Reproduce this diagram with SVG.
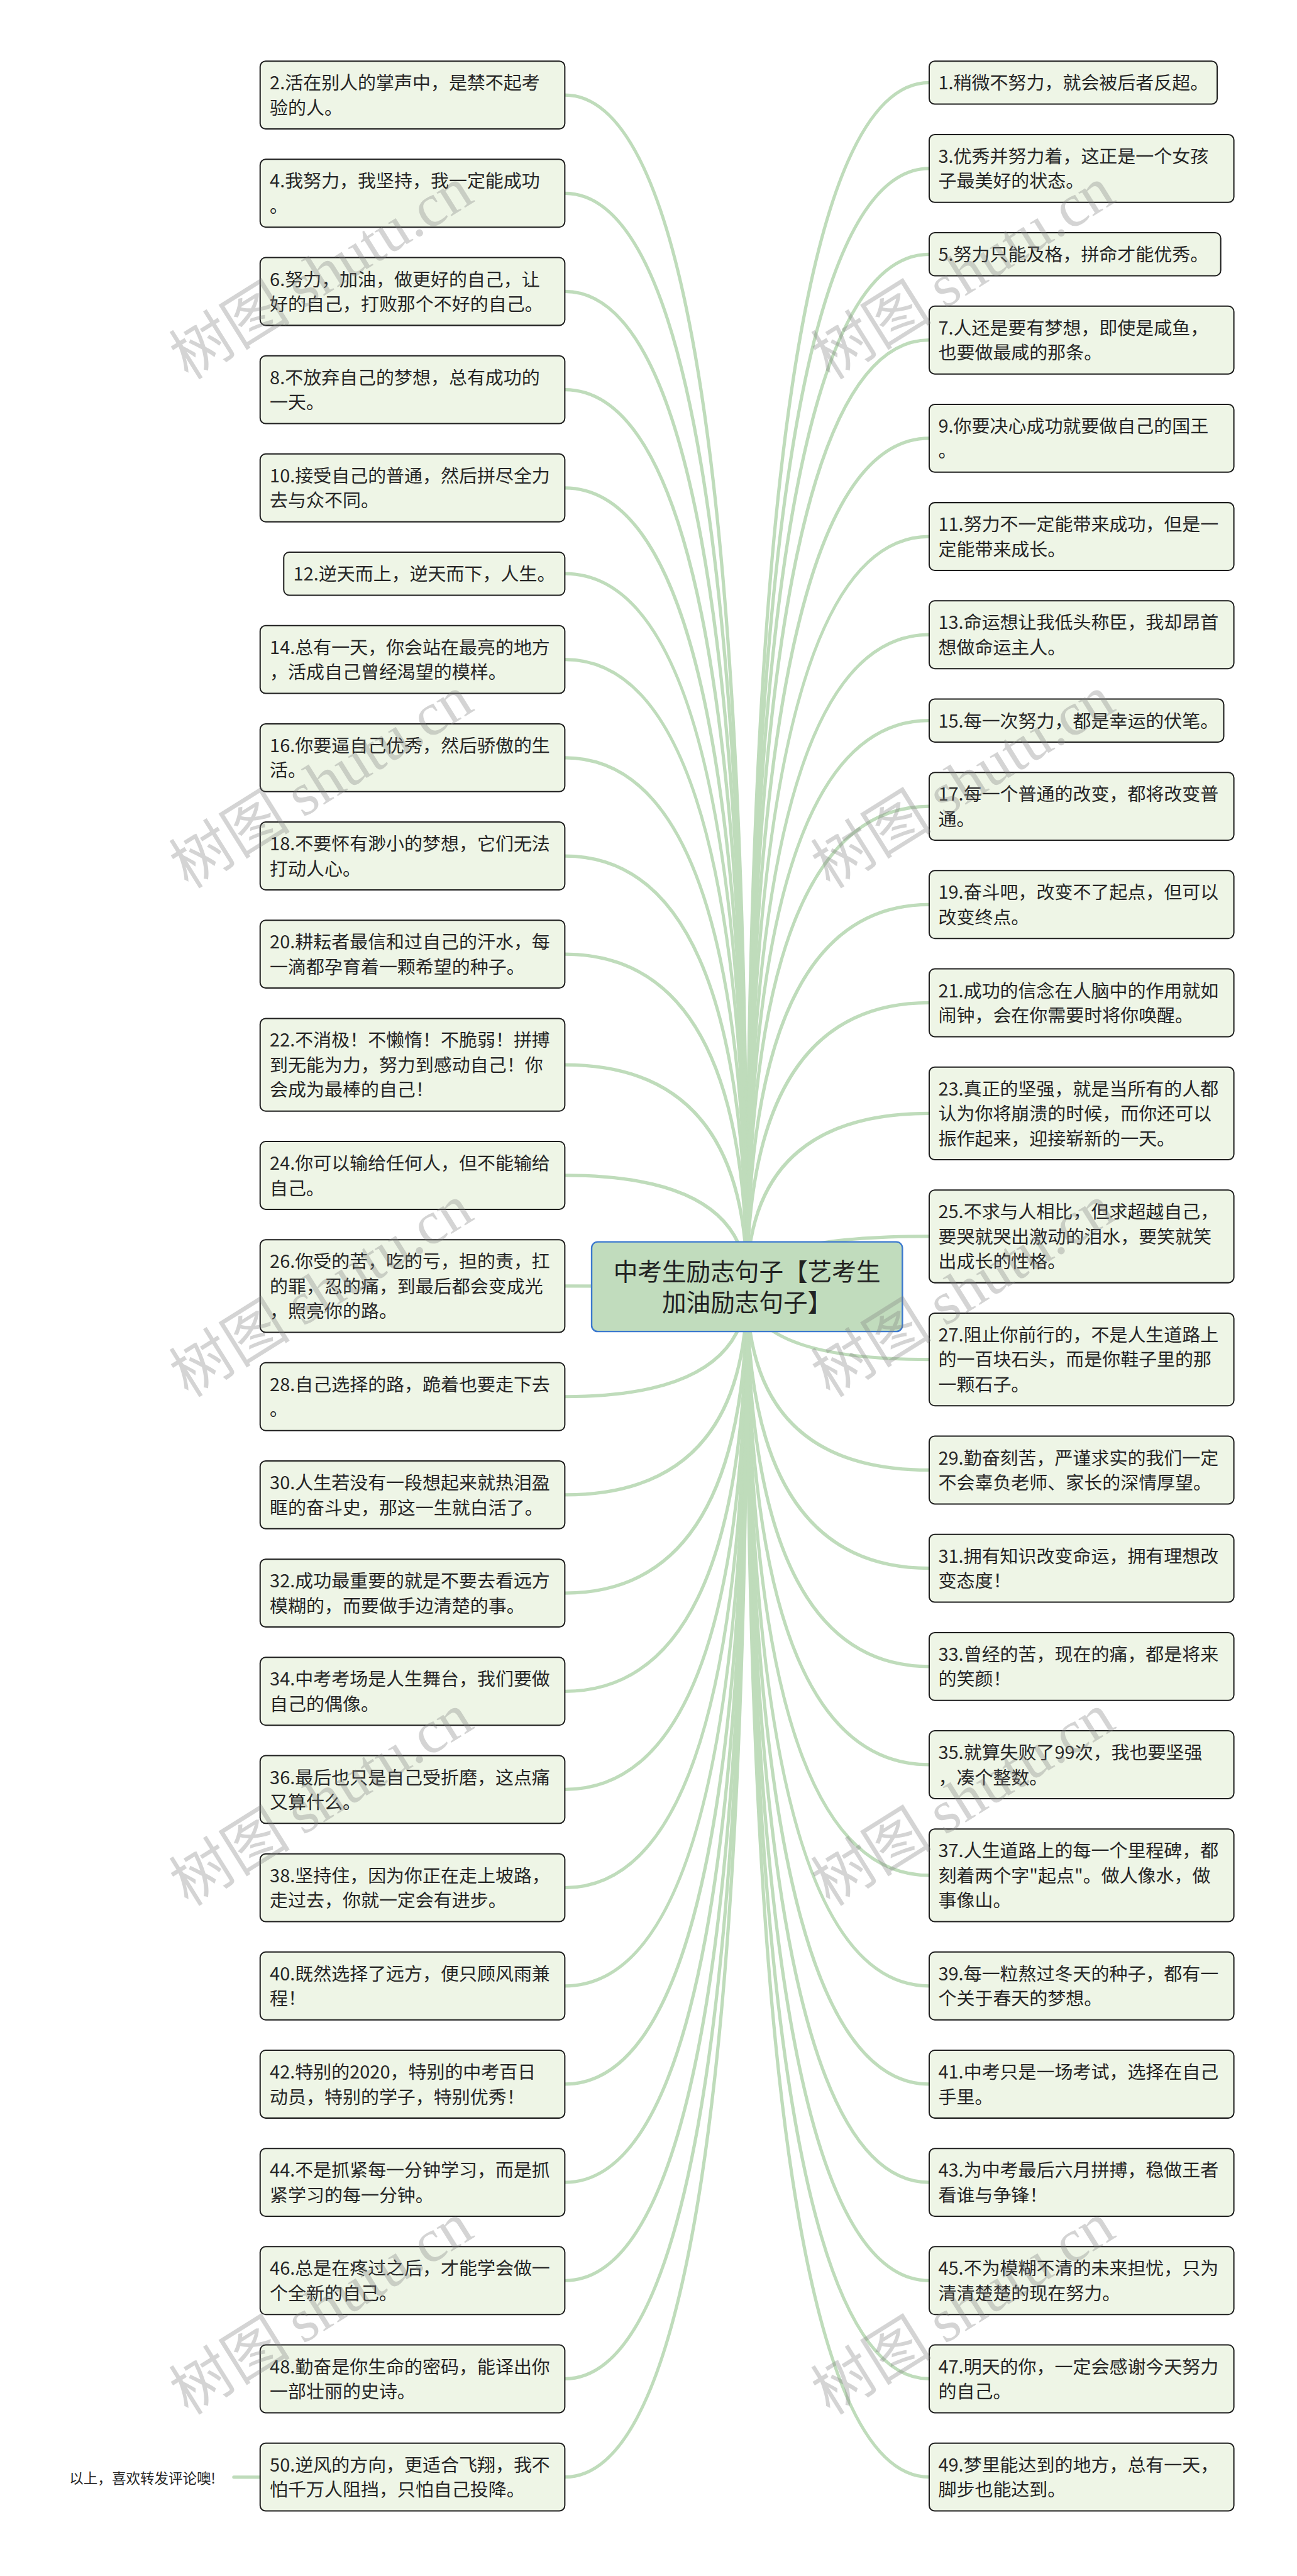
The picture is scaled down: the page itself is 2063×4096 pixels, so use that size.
<svg xmlns="http://www.w3.org/2000/svg" width="2063" height="4096" viewBox="0 0 2063 4096">
<style>
.n rect{fill:#eef5e6;stroke:#1e1e1e;stroke-width:2.5}
.t{font-family:"Noto Sans CJK SC","Noto Sans",sans-serif;font-size:36px;fill:#262626}
.ct{font-family:"Noto Sans CJK SC","Noto Sans",sans-serif;font-size:48px;fill:#222;text-anchor:middle}
.c path{fill:none;stroke:#bfdcbb;stroke-width:6.5;stroke-linecap:round}
.wm{font-family:"Noto Sans CJK SC",sans-serif;font-size:120px;fill:#808080;opacity:0.33}
.wm tspan{font-family:"Liberation Serif",serif}
</style>
<rect width="2063" height="4096" fill="#fff"/>
<g transform="scale(0.805)">
<g id="connectors" class="c">
<path d="M1476 2541Q1476 187.7 1116 187.7"/>
<path d="M1476 2541Q1476 381.7 1116 381.7"/>
<path d="M1476 2541Q1476 575.7 1116 575.7"/>
<path d="M1476 2541Q1476 769.7 1116 769.7"/>
<path d="M1476 2541Q1476 963.7 1116 963.7"/>
<path d="M1476 2541Q1476 1133.2 1116 1133.2"/>
<path d="M1476 2541Q1476 1302.7 1116 1302.7"/>
<path d="M1476 2541Q1476 1496.7 1116 1496.7"/>
<path d="M1476 2541Q1476 1690.7 1116 1690.7"/>
<path d="M1476 2541Q1476 1884.7 1116 1884.7"/>
<path d="M1476 2541Q1476 2103.2 1116 2103.2"/>
<path d="M1476 2541Q1476 2321.7 1116 2321.7"/>
<path d="M1476 2541Q1476 2540.2 1116 2540.2"/>
<path d="M1476 2541Q1476 2758.7 1116 2758.7"/>
<path d="M1476 2541Q1476 2952.7 1116 2952.7"/>
<path d="M1476 2541Q1476 3146.7 1116 3146.7"/>
<path d="M1476 2541Q1476 3340.7 1116 3340.7"/>
<path d="M1476 2541Q1476 3534.7 1116 3534.7"/>
<path d="M1476 2541Q1476 3728.7 1116 3728.7"/>
<path d="M1476 2541Q1476 3922.7 1116 3922.7"/>
<path d="M1476 2541Q1476 4116.7 1116 4116.7"/>
<path d="M1476 2541Q1476 4310.7 1116 4310.7"/>
<path d="M1476 2541Q1476 4504.7 1116 4504.7"/>
<path d="M1476 2541Q1476 4698.7 1116 4698.7"/>
<path d="M1476 2541Q1476 4892.7 1116 4892.7"/>
<path d="M1476 2541Q1476 163.2 1836 163.2"/>
<path d="M1476 2541Q1476 332.7 1836 332.7"/>
<path d="M1476 2541Q1476 502.2 1836 502.2"/>
<path d="M1476 2541Q1476 671.7 1836 671.7"/>
<path d="M1476 2541Q1476 865.7 1836 865.7"/>
<path d="M1476 2541Q1476 1059.7 1836 1059.7"/>
<path d="M1476 2541Q1476 1253.7 1836 1253.7"/>
<path d="M1476 2541Q1476 1423.2 1836 1423.2"/>
<path d="M1476 2541Q1476 1592.7 1836 1592.7"/>
<path d="M1476 2541Q1476 1786.7 1836 1786.7"/>
<path d="M1476 2541Q1476 1980.7 1836 1980.7"/>
<path d="M1476 2541Q1476 2199.2 1836 2199.2"/>
<path d="M1476 2541Q1476 2442.2 1836 2442.2"/>
<path d="M1476 2541Q1476 2685.2 1836 2685.2"/>
<path d="M1476 2541Q1476 2903.7 1836 2903.7"/>
<path d="M1476 2541Q1476 3097.7 1836 3097.7"/>
<path d="M1476 2541Q1476 3291.7 1836 3291.7"/>
<path d="M1476 2541Q1476 3485.7 1836 3485.7"/>
<path d="M1476 2541Q1476 3704.2 1836 3704.2"/>
<path d="M1476 2541Q1476 3922.7 1836 3922.7"/>
<path d="M1476 2541Q1476 4116.7 1836 4116.7"/>
<path d="M1476 2541Q1476 4310.7 1836 4310.7"/>
<path d="M1476 2541Q1476 4504.7 1836 4504.7"/>
<path d="M1476 2541Q1476 4698.7 1836 4698.7"/>
<path d="M1476 2541Q1476 4892.7 1836 4892.7"/>
<path d="M520 4893L462 4893"/>
</g>
<g id="root">
<rect x="1169" y="2453" width="614" height="177" rx="12" fill="#c1dcbd" stroke="#3b78cf" stroke-width="3"/>
<text class="ct"><tspan x="1476" y="2529">中考生励志句子【艺考生</tspan><tspan x="1476" y="2590">加油励志句子】</tspan></text>
</g>
<g id="n2" class="n"><rect x="514" y="120.7" width="602" height="134" rx="11"/><text class="t"><tspan x="533" y="176.7">2.活在别人的掌声中，是禁不起考</tspan><tspan x="533" y="225.7">验的人。</tspan></text></g>
<g id="n4" class="n"><rect x="514" y="314.7" width="602" height="134" rx="11"/><text class="t"><tspan x="533" y="370.7">4.我努力，我坚持，我一定能成功</tspan><tspan x="533" y="419.7">。</tspan></text></g>
<g id="n6" class="n"><rect x="514" y="508.7" width="602" height="134" rx="11"/><text class="t"><tspan x="533" y="564.7">6.努力，加油，做更好的自己，让</tspan><tspan x="533" y="613.7">好的自己，打败那个不好的自己。</tspan></text></g>
<g id="n8" class="n"><rect x="514" y="702.7" width="602" height="134" rx="11"/><text class="t"><tspan x="533" y="758.7">8.不放弃自己的梦想，总有成功的</tspan><tspan x="533" y="807.7">一天。</tspan></text></g>
<g id="n10" class="n"><rect x="514" y="896.7" width="602" height="134" rx="11"/><text class="t"><tspan x="533" y="952.7">10.接受自己的普通，然后拼尽全力</tspan><tspan x="533" y="1001.7">去与众不同。</tspan></text></g>
<g id="n12" class="n"><rect x="560.6" y="1090.7" width="555.4" height="85" rx="11"/><text class="t"><tspan x="579.6" y="1146.7">12.逆天而上，逆天而下，人生。</tspan></text></g>
<g id="n14" class="n"><rect x="514" y="1235.7" width="602" height="134" rx="11"/><text class="t"><tspan x="533" y="1291.7">14.总有一天，你会站在最亮的地方</tspan><tspan x="533" y="1340.7">，活成自己曾经渴望的模样。</tspan></text></g>
<g id="n16" class="n"><rect x="514" y="1429.7" width="602" height="134" rx="11"/><text class="t"><tspan x="533" y="1485.7">16.你要逼自己优秀，然后骄傲的生</tspan><tspan x="533" y="1534.7">活。</tspan></text></g>
<g id="n18" class="n"><rect x="514" y="1623.7" width="602" height="134" rx="11"/><text class="t"><tspan x="533" y="1679.7">18.不要怀有渺小的梦想，它们无法</tspan><tspan x="533" y="1728.7">打动人心。</tspan></text></g>
<g id="n20" class="n"><rect x="514" y="1817.7" width="602" height="134" rx="11"/><text class="t"><tspan x="533" y="1873.7">20.耕耘者最信和过自己的汗水，每</tspan><tspan x="533" y="1922.7">一滴都孕育着一颗希望的种子。</tspan></text></g>
<g id="n22" class="n"><rect x="514" y="2011.7" width="602" height="183" rx="11"/><text class="t"><tspan x="533" y="2067.7">22.不消极！不懒惰！不脆弱！拼搏</tspan><tspan x="533" y="2116.7">到无能为力，努力到感动自己！你</tspan><tspan x="533" y="2165.7">会成为最棒的自己！</tspan></text></g>
<g id="n24" class="n"><rect x="514" y="2254.7" width="602" height="134" rx="11"/><text class="t"><tspan x="533" y="2310.7">24.你可以输给任何人，但不能输给</tspan><tspan x="533" y="2359.7">自己。</tspan></text></g>
<g id="n26" class="n"><rect x="514" y="2448.7" width="602" height="183" rx="11"/><text class="t"><tspan x="533" y="2504.7">26.你受的苦，吃的亏，担的责，扛</tspan><tspan x="533" y="2553.7">的罪，忍的痛，到最后都会变成光</tspan><tspan x="533" y="2602.7">，照亮你的路。</tspan></text></g>
<g id="n28" class="n"><rect x="514" y="2691.7" width="602" height="134" rx="11"/><text class="t"><tspan x="533" y="2747.7">28.自己选择的路，跪着也要走下去</tspan><tspan x="533" y="2796.7">。</tspan></text></g>
<g id="n30" class="n"><rect x="514" y="2885.7" width="602" height="134" rx="11"/><text class="t"><tspan x="533" y="2941.7">30.人生若没有一段想起来就热泪盈</tspan><tspan x="533" y="2990.7">眶的奋斗史，那这一生就白活了。</tspan></text></g>
<g id="n32" class="n"><rect x="514" y="3079.7" width="602" height="134" rx="11"/><text class="t"><tspan x="533" y="3135.7">32.成功最重要的就是不要去看远方</tspan><tspan x="533" y="3184.7">模糊的，而要做手边清楚的事。</tspan></text></g>
<g id="n34" class="n"><rect x="514" y="3273.7" width="602" height="134" rx="11"/><text class="t"><tspan x="533" y="3329.7">34.中考考场是人生舞台，我们要做</tspan><tspan x="533" y="3378.7">自己的偶像。</tspan></text></g>
<g id="n36" class="n"><rect x="514" y="3467.7" width="602" height="134" rx="11"/><text class="t"><tspan x="533" y="3523.7">36.最后也只是自己受折磨，这点痛</tspan><tspan x="533" y="3572.7">又算什么。</tspan></text></g>
<g id="n38" class="n"><rect x="514" y="3661.7" width="602" height="134" rx="11"/><text class="t"><tspan x="533" y="3717.7">38.坚持住，因为你正在走上坡路，</tspan><tspan x="533" y="3766.7">走过去，你就一定会有进步。</tspan></text></g>
<g id="n40" class="n"><rect x="514" y="3855.7" width="602" height="134" rx="11"/><text class="t"><tspan x="533" y="3911.7">40.既然选择了远方，便只顾风雨兼</tspan><tspan x="533" y="3960.7">程！</tspan></text></g>
<g id="n42" class="n"><rect x="514" y="4049.7" width="602" height="134" rx="11"/><text class="t"><tspan x="533" y="4105.7">42.特别的2020，特别的中考百日</tspan><tspan x="533" y="4154.7">动员，特别的学子，特别优秀！</tspan></text></g>
<g id="n44" class="n"><rect x="514" y="4243.7" width="602" height="134" rx="11"/><text class="t"><tspan x="533" y="4299.7">44.不是抓紧每一分钟学习，而是抓</tspan><tspan x="533" y="4348.7">紧学习的每一分钟。</tspan></text></g>
<g id="n46" class="n"><rect x="514" y="4437.7" width="602" height="134" rx="11"/><text class="t"><tspan x="533" y="4493.7">46.总是在疼过之后，才能学会做一</tspan><tspan x="533" y="4542.7">个全新的自己。</tspan></text></g>
<g id="n48" class="n"><rect x="514" y="4631.7" width="602" height="134" rx="11"/><text class="t"><tspan x="533" y="4687.7">48.勤奋是你生命的密码，能译出你</tspan><tspan x="533" y="4736.7">一部壮丽的史诗。</tspan></text></g>
<g id="n50" class="n"><rect x="514" y="4825.7" width="602" height="134" rx="11"/><text class="t"><tspan x="533" y="4881.7">50.逆风的方向，更适合飞翔，我不</tspan><tspan x="533" y="4930.7">怕千万人阻挡，只怕自己投降。</tspan></text></g>
<g id="n1" class="n"><rect x="1836" y="120.7" width="569" height="85" rx="11"/><text class="t"><tspan x="1854" y="176.7">1.稍微不努力，就会被后者反超。</tspan></text></g>
<g id="n3" class="n"><rect x="1836" y="265.7" width="602" height="134" rx="11"/><text class="t"><tspan x="1854" y="321.7">3.优秀并努力着，这正是一个女孩</tspan><tspan x="1854" y="370.7">子最美好的状态。</tspan></text></g>
<g id="n5" class="n"><rect x="1836" y="459.7" width="576" height="85" rx="11"/><text class="t"><tspan x="1854" y="515.7">5.努力只能及格，拼命才能优秀。</tspan></text></g>
<g id="n7" class="n"><rect x="1836" y="604.7" width="602" height="134" rx="11"/><text class="t"><tspan x="1854" y="660.7">7.人还是要有梦想，即使是咸鱼，</tspan><tspan x="1854" y="709.7">也要做最咸的那条。</tspan></text></g>
<g id="n9" class="n"><rect x="1836" y="798.7" width="602" height="134" rx="11"/><text class="t"><tspan x="1854" y="854.7">9.你要决心成功就要做自己的国王</tspan><tspan x="1854" y="903.7">。</tspan></text></g>
<g id="n11" class="n"><rect x="1836" y="992.7" width="602" height="134" rx="11"/><text class="t"><tspan x="1854" y="1048.7">11.努力不一定能带来成功，但是一</tspan><tspan x="1854" y="1097.7">定能带来成长。</tspan></text></g>
<g id="n13" class="n"><rect x="1836" y="1186.7" width="602" height="134" rx="11"/><text class="t"><tspan x="1854" y="1242.7">13.命运想让我低头称臣，我却昂首</tspan><tspan x="1854" y="1291.7">想做命运主人。</tspan></text></g>
<g id="n15" class="n"><rect x="1836" y="1380.7" width="582" height="85" rx="11"/><text class="t"><tspan x="1854" y="1436.7">15.每一次努力，都是幸运的伏笔。</tspan></text></g>
<g id="n17" class="n"><rect x="1836" y="1525.7" width="602" height="134" rx="11"/><text class="t"><tspan x="1854" y="1581.7">17.每一个普通的改变，都将改变普</tspan><tspan x="1854" y="1630.7">通。</tspan></text></g>
<g id="n19" class="n"><rect x="1836" y="1719.7" width="602" height="134" rx="11"/><text class="t"><tspan x="1854" y="1775.7">19.奋斗吧，改变不了起点，但可以</tspan><tspan x="1854" y="1824.7">改变终点。</tspan></text></g>
<g id="n21" class="n"><rect x="1836" y="1913.7" width="602" height="134" rx="11"/><text class="t"><tspan x="1854" y="1969.7">21.成功的信念在人脑中的作用就如</tspan><tspan x="1854" y="2018.7">闹钟，会在你需要时将你唤醒。</tspan></text></g>
<g id="n23" class="n"><rect x="1836" y="2107.7" width="602" height="183" rx="11"/><text class="t"><tspan x="1854" y="2163.7">23.真正的坚强，就是当所有的人都</tspan><tspan x="1854" y="2212.7">认为你将崩溃的时候，而你还可以</tspan><tspan x="1854" y="2261.7">振作起来，迎接崭新的一天。</tspan></text></g>
<g id="n25" class="n"><rect x="1836" y="2350.7" width="602" height="183" rx="11"/><text class="t"><tspan x="1854" y="2406.7">25.不求与人相比，但求超越自己，</tspan><tspan x="1854" y="2455.7">要哭就哭出激动的泪水，要笑就笑</tspan><tspan x="1854" y="2504.7">出成长的性格。</tspan></text></g>
<g id="n27" class="n"><rect x="1836" y="2593.7" width="602" height="183" rx="11"/><text class="t"><tspan x="1854" y="2649.7">27.阻止你前行的，不是人生道路上</tspan><tspan x="1854" y="2698.7">的一百块石头，而是你鞋子里的那</tspan><tspan x="1854" y="2747.7">一颗石子。</tspan></text></g>
<g id="n29" class="n"><rect x="1836" y="2836.7" width="602" height="134" rx="11"/><text class="t"><tspan x="1854" y="2892.7">29.勤奋刻苦，严谨求实的我们一定</tspan><tspan x="1854" y="2941.7">不会辜负老师、家长的深情厚望。</tspan></text></g>
<g id="n31" class="n"><rect x="1836" y="3030.7" width="602" height="134" rx="11"/><text class="t"><tspan x="1854" y="3086.7">31.拥有知识改变命运，拥有理想改</tspan><tspan x="1854" y="3135.7">变态度！</tspan></text></g>
<g id="n33" class="n"><rect x="1836" y="3224.7" width="602" height="134" rx="11"/><text class="t"><tspan x="1854" y="3280.7">33.曾经的苦，现在的痛，都是将来</tspan><tspan x="1854" y="3329.7">的笑颜！</tspan></text></g>
<g id="n35" class="n"><rect x="1836" y="3418.7" width="602" height="134" rx="11"/><text class="t"><tspan x="1854" y="3474.7">35.就算失败了99次，我也要坚强</tspan><tspan x="1854" y="3523.7">，凑个整数。</tspan></text></g>
<g id="n37" class="n"><rect x="1836" y="3612.7" width="602" height="183" rx="11"/><text class="t"><tspan x="1854" y="3668.7">37.人生道路上的每一个里程碑，都</tspan><tspan x="1854" y="3717.7">刻着两个字"起点"。做人像水，做</tspan><tspan x="1854" y="3766.7">事像山。</tspan></text></g>
<g id="n39" class="n"><rect x="1836" y="3855.7" width="602" height="134" rx="11"/><text class="t"><tspan x="1854" y="3911.7">39.每一粒熬过冬天的种子，都有一</tspan><tspan x="1854" y="3960.7">个关于春天的梦想。</tspan></text></g>
<g id="n41" class="n"><rect x="1836" y="4049.7" width="602" height="134" rx="11"/><text class="t"><tspan x="1854" y="4105.7">41.中考只是一场考试，选择在自己</tspan><tspan x="1854" y="4154.7">手里。</tspan></text></g>
<g id="n43" class="n"><rect x="1836" y="4243.7" width="602" height="134" rx="11"/><text class="t"><tspan x="1854" y="4299.7">43.为中考最后六月拼搏，稳做王者</tspan><tspan x="1854" y="4348.7">看谁与争锋！</tspan></text></g>
<g id="n45" class="n"><rect x="1836" y="4437.7" width="602" height="134" rx="11"/><text class="t"><tspan x="1854" y="4493.7">45.不为模糊不清的未来担忧，只为</tspan><tspan x="1854" y="4542.7">清清楚楚的现在努力。</tspan></text></g>
<g id="n47" class="n"><rect x="1836" y="4631.7" width="602" height="134" rx="11"/><text class="t"><tspan x="1854" y="4687.7">47.明天的你，一定会感谢今天努力</tspan><tspan x="1854" y="4736.7">的自己。</tspan></text></g>
<g id="n49" class="n"><rect x="1836" y="4825.7" width="602" height="134" rx="11"/><text class="t"><tspan x="1854" y="4881.7">49.梦里能达到的地方，总有一天，</tspan><tspan x="1854" y="4930.7">脚步也能达到。</tspan></text></g>
<g id="note"><text x="137" y="4906" font-family="'Noto Sans CJK SC','Noto Sans',sans-serif" font-size="28" fill="#262626">以上，喜欢转发评论噢!</text></g>
<g id="watermarks">
<text class="wm" transform="translate(372 752) rotate(-32)">树图 <tspan>shutu.cn</tspan></text>
<text class="wm" transform="translate(1640 752) rotate(-32)">树图 <tspan>shutu.cn</tspan></text>
<text class="wm" transform="translate(372 1757) rotate(-32)">树图 <tspan>shutu.cn</tspan></text>
<text class="wm" transform="translate(1640 1757) rotate(-32)">树图 <tspan>shutu.cn</tspan></text>
<text class="wm" transform="translate(372 2762) rotate(-32)">树图 <tspan>shutu.cn</tspan></text>
<text class="wm" transform="translate(1640 2762) rotate(-32)">树图 <tspan>shutu.cn</tspan></text>
<text class="wm" transform="translate(372 3767) rotate(-32)">树图 <tspan>shutu.cn</tspan></text>
<text class="wm" transform="translate(1640 3767) rotate(-32)">树图 <tspan>shutu.cn</tspan></text>
<text class="wm" transform="translate(372 4772) rotate(-32)">树图 <tspan>shutu.cn</tspan></text>
<text class="wm" transform="translate(1640 4772) rotate(-32)">树图 <tspan>shutu.cn</tspan></text>
</g>
</g>
</svg>
